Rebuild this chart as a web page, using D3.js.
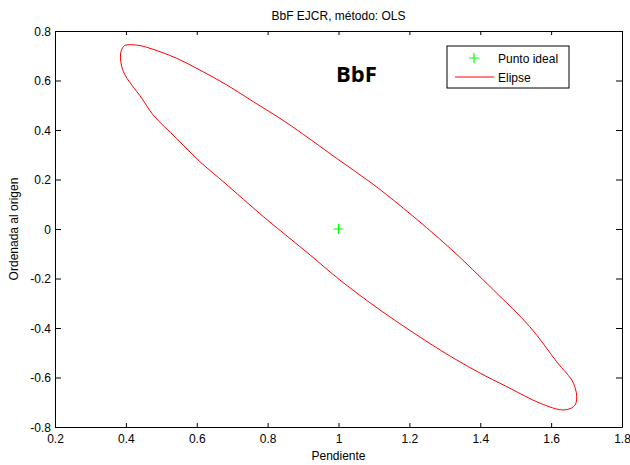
<!DOCTYPE html>
<html>
<head>
<meta charset="utf-8">
<script src="https://cdn.jsdelivr.net/npm/d3@7"></script>
<style>
  body { margin: 0; background: #fff; }
  text { font-family: "Liberation Sans", Arial, sans-serif; }
</style>
</head>
<body>
<svg id="chart" width="630" height="465"></svg>
<script>
// chart text
var title = "BbF EJCR, método: OLS";
var xLabel = "Pendiente";
var yLabel = "Ordenada al origen";
var tag = "BbF";

// ticks
var xTicks = [0.2, 0.4, 0.6, 0.8, 1, 1.2, 1.4, 1.6, 1.8];
var yTicks = [-0.8, -0.6, -0.4, -0.2, 0, 0.2, 0.4, 0.6, 0.8];

// ideal point (slope 1, intercept 0)
var idealX = [1];
var idealY = [0];

// ellipse outline (closed loop)
var ellipseX = [0.385, 0.393, 0.400, 0.431, 0.468, 0.543, 0.609, 0.685, 0.760, 0.835,
  0.901, 0.995, 1.089, 1.183, 1.315, 1.437, 1.540, 1.616, 1.663, 1.672,
  1.663, 1.634, 1.569, 1.475, 1.394, 1.287, 1.117, 1.004, 0.920,
  0.788, 0.680, 0.609, 0.543, 0.477, 0.445, 0.393];
var ellipseY = [0.707, 0.737, 0.743, 0.743, 0.730, 0.690, 0.642, 0.582, 0.514, 0.447,
  0.382, 0.285, 0.190, 0.084, -0.078, -0.246, -0.395, -0.537, -0.623, -0.691,
  -0.718, -0.731, -0.704, -0.637, -0.578, -0.489, -0.327, -0.206, -0.105,
  0.050, 0.185, 0.272, 0.366, 0.461, 0.528, 0.636];

var margin = { left: 55, top: 31, right: 8, bottom: 38 };
var width = 630 - margin.left - margin.right;
var height = 465 - margin.top - margin.bottom;

var svg = d3.select("#chart");
var g = svg.append("g")
  .attr("transform", "translate(" + margin.left + "," + margin.top + ")");

var x = d3.scaleLinear().domain([0.2, 1.8]).range([0, width]);
var y = d3.scaleLinear().domain([-0.8, 0.8]).range([height, 0]);

var fmt = function (d) { return String(d); };

// axes, ticks inside like matlab
var xBottom = g.append("g")
  .attr("transform", "translate(0," + height + ")")
  .call(d3.axisBottom(x).tickValues(xTicks).tickFormat(fmt).tickSizeInner(-4).tickSizeOuter(0).tickPadding(5));
var xTop = g.append("g")
  .call(d3.axisTop(x).tickValues(xTicks).tickFormat("").tickSizeInner(-4).tickSizeOuter(0));
var yLeft = g.append("g")
  .call(d3.axisLeft(y).tickValues(yTicks).tickFormat(fmt).tickSizeInner(-6).tickSizeOuter(0).tickPadding(4));
var yRight = g.append("g")
  .attr("transform", "translate(" + width + ",0)")
  .call(d3.axisRight(y).tickValues(yTicks).tickFormat("").tickSizeInner(-6).tickSizeOuter(0));

[xBottom, xTop, yLeft, yRight].forEach(function (a) {
  a.select(".domain").attr("stroke", "#000").attr("stroke-width", 1);
  a.selectAll(".tick line").attr("stroke", "#000");
  a.selectAll("text").attr("font-size", 12).attr("fill", "#000")
    .style("font-family", "'Liberation Sans', Arial, sans-serif");
});
xBottom.selectAll("text").attr("dy", "0.95em");
yLeft.selectAll("text").attr("dy", "0.35em");

// ellipse
var pts = ellipseX.map(function (d, i) { return [d, ellipseY[i]]; });
g.append("path")
  .datum(pts)
  .attr("fill", "none")
  .attr("stroke", "#ff0000")
  .attr("stroke-width", 1)
  .attr("d", d3.line()
    .curve(d3.curveCatmullRomClosed)
    .x(function (d) { return x(d[0]); })
    .y(function (d) { return y(d[1]); }));

// ideal point marker
g.selectAll("path.ideal")
  .data(idealX.map(function (d, i) { return [d, idealY[i]]; }))
  .enter().append("path")
  .attr("class", "ideal")
  .attr("fill", "none")
  .attr("stroke", "#00ff00")
  .attr("stroke-width", 1.2)
  .attr("d", function (d) {
    var cx = x(d[0]), cy = y(d[1]);
    return "M" + (cx - 5) + "," + cy + "H" + (cx + 5) + "M" + cx + "," + (cy - 5) + "V" + (cy + 5);
  });

// legend
var legend = g.append("g").attr("transform", "translate(392,15)");
legend.append("rect")
  .attr("width", 122).attr("height", 42)
  .attr("fill", "#fff").attr("stroke", "#000").attr("stroke-width", 1);
legend.append("path")
  .attr("fill", "none").attr("stroke", "#00ff00").attr("stroke-width", 1.2)
  .attr("d", "M22,12H32M27,7V17");
legend.append("text").attr("x", 51).attr("y", 16.5).attr("font-size", 12).text("Punto ideal");
legend.append("line")
  .attr("x1", 8).attr("x2", 47).attr("y1", 31).attr("y2", 31)
  .attr("stroke", "#ff0000").attr("stroke-width", 1);
legend.append("text").attr("x", 51).attr("y", 35.5).attr("font-size", 12).text("Elipse");

// tag
g.append("text")
  .attr("x", 281).attr("y", 51)
  .attr("font-size", 22)
  .attr("font-weight", "bold")
  .style("font-family", "'Open Sans', sans-serif")
  .text(tag);

// title and axis labels
svg.append("text")
  .attr("x", margin.left + width / 2).attr("y", 20)
  .attr("text-anchor", "middle").attr("font-size", 12)
  .text(title);
svg.append("text")
  .attr("x", margin.left + width / 2).attr("y", 460)
  .attr("text-anchor", "middle").attr("font-size", 12)
  .text(xLabel);
svg.append("text")
  .attr("transform", "translate(18," + (margin.top + height / 2) + ") rotate(-90)")
  .attr("text-anchor", "middle").attr("font-size", 12)
  .text(yLabel);
</script>
</body>
</html>
